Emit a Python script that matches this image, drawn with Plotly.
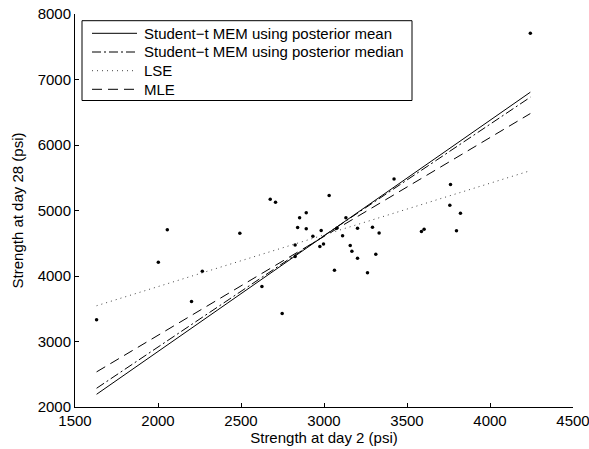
import plotly.graph_objects as go

day2 = [1630, 2002, 2056, 2202, 2267, 2493, 2626, 2676, 2708, 2748,
        2826, 2826, 2841, 2853, 2893, 2893, 2933, 2975, 2983, 2997,
        3031, 3063, 3077, 3112, 3132, 3158, 3168, 3202, 3202, 3262,
        3292, 3312, 3332, 3422, 3587, 3603, 3762, 3758, 3798, 3822, 4243]
day28 = [3332, 4209, 4705, 3612, 4071, 4653, 3840, 5173, 5127, 3428,
         4475, 4296, 4740, 4888, 4965, 4720, 4607, 4449, 4694, 4490,
         5230, 4087, 4729, 4613, 4888, 4464, 4377, 4729, 4270, 4051,
         4745, 4331, 4658, 5480, 4679, 4714, 5398, 5081, 4689, 4959, 7705]

line_x = [1630, 4243]
mem_mean = [2194, 6806]
mem_median = [2286, 6730]
lse = [3546, 5608]
mle = [2536, 6480]

names = ["Student\u2212t MEM using posterior mean",
         "Student\u2212t MEM using posterior median",
         "LSE", "MLE"]

FONT = "Liberation Sans, Arial, Helvetica, sans-serif"
W, H = 589, 449
ML, MR, MT, MB = 75, 16, 14, 42
PW, PH = W - ML - MR, H - MT - MB

def px(x):
    return (x - ML) / PW

def py(y):
    return (H - MB - y) / PH

styles = [dict(color="black", width=1),
          dict(color="black", width=1, dash="9px,3px,2px,3px"),
          dict(color="#444444", width=1, dash="1px,4px"),
          dict(color="black", width=1, dash="10px,6px")]
series = [mem_mean, mem_median, lse, mle]

fig = go.Figure()
fig.add_trace(go.Scatter(x=day2, y=day28, mode="markers",
                         marker=dict(color="black", size=3.5), showlegend=False))
for nm, ys, st in zip(names, series, styles):
    fig.add_trace(go.Scatter(x=line_x, y=ys, mode="lines", name=nm,
                             line=st, showlegend=False))

# legend box drawn to match the reference's compact spacing
fig.add_shape(type="rect", xref="paper", yref="paper",
              x0=px(82), x1=px(412), y0=py(100.5), y1=py(20.7),
              line=dict(color="black", width=1), fillcolor="white", layer="above")
row_y = [33.3, 52.0, 70.7, 89.3]
for nm, st, ry in zip(names, styles, row_y):
    fig.add_shape(type="line", xref="paper", yref="paper",
                  x0=px(92), x1=px(137), y0=py(ry), y1=py(ry),
                  line=st, layer="above")
    fig.add_annotation(xref="paper", yref="paper", x=px(142), y=py(ry),
                       text=nm, showarrow=False, xanchor="left", yanchor="middle",
                       font=dict(family=FONT, size=15, color="black"))

axis_common = dict(showgrid=False, zeroline=False, showline=True, linecolor="black",
                   linewidth=1, ticks="inside", ticklen=4, tickcolor="black",
                   tickfont=dict(family=FONT, size=15, color="black"),
                   mirror=False, automargin=False, ticklabeloverflow="allow")
fig.update_xaxes(range=[1500, 4500], tickvals=[1500, 2000, 2500, 3000, 3500, 4000, 4500],
                 title=dict(text="Strength at day 2 (psi)", standoff=2,
                            font=dict(family=FONT, size=15, color="black")),
                 **axis_common)
fig.update_yaxes(range=[2000, 8000], tickvals=[2000, 3000, 4000, 5000, 6000, 7000, 8000],
                 title=dict(text="Strength at day 28 (psi)", standoff=10,
                            font=dict(family=FONT, size=15, color="black")),
                 **axis_common)
fig.update_layout(
    width=W, height=H,
    margin=dict(l=ML, r=MR, t=MT, b=MB),
    paper_bgcolor="white", plot_bgcolor="white",
    showlegend=False,
)
fig.write_html("out.html", config={"displayModeBar": False},
               post_script="document.body.style.margin='0px';")
